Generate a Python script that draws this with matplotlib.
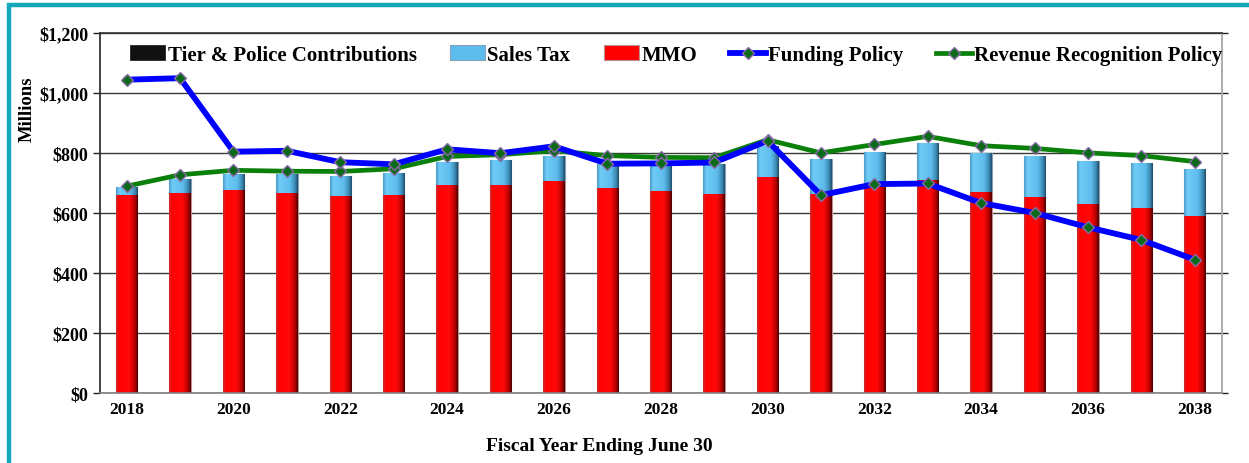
#!/usr/bin/env python3
"""Pension contributions vs. funding / revenue recognition policies, FY2018-2038."""

import matplotlib
matplotlib.use("Agg")
import matplotlib.pyplot as plt
import numpy as np
from matplotlib.colors import LinearSegmentedColormap
from matplotlib.patches import Rectangle

plt.rcParams["font.family"] = ["Liberation Serif", "DejaVu Serif"]
plt.rcParams["font.weight"] = "bold"

years = list(range(2018, 2039))
tier_police = [0] * 21
mmo = [660, 667, 677, 667, 658, 660, 694, 694, 706, 684, 672, 663, 719, 663,
       690, 709, 669, 654, 631, 617, 589]
sales_tax_top = [687, 713, 730, 728, 724, 732, 771, 776, 791, 764, 761, 764, 824, 778,
                 804, 832, 800, 790, 774, 766, 745]
sales_tax = [t - m for t, m in zip(sales_tax_top, mmo)]
funding_policy = [1044, 1049, 804, 807, 769, 762, 812, 799, 822, 764, 765, 768, 840, 659,
                  696, 698, 633, 600, 552, 510, 444]
revenue_policy = [689, 727, 742, 739, 738, 747, 788, 794, 807, 791, 785, 784, 844, 800,
                  828, 855, 824, 815, 800, 791, 771]

y_ticks = [0, 200, 400, 600, 800, 1000, 1200]
x_ticks = list(range(2018, 2039, 2))

RED_SHADE = LinearSegmentedColormap.from_list(
    "red_shade", [(0, "#c83030"), (0.12, "#ff0000"), (0.6, "#ff0808"),
                  (0.85, "#c00000"), (1.0, "#4a0000")])
BLUE_SHADE = LinearSegmentedColormap.from_list(
    "blue_shade", [(0, "#4a9cc8"), (0.15, "#70ccf6"), (0.65, "#5cbcec"),
                   (0.88, "#3a88b0"), (1.0, "#1e4a66")])


def shade_bars(ax, rects, cmap):
    """在每根柱子里叠一层横向渐变，模拟原图的立体感。"""
    grad = np.linspace(0, 1, 64).reshape(1, -1)
    for r in rects:
        if r.get_height() <= 0:
            continue
        x, y, w, h = r.get_x(), r.get_y(), r.get_width(), r.get_height()
        im = ax.imshow(grad, extent=(x, x + w, y, y + h), cmap=cmap, aspect="auto",
                       interpolation="bicubic", zorder=r.get_zorder() + 0.05)
        im.set_clip_path(r)


fig = plt.figure(figsize=(12.49, 4.64), dpi=100)
ax = fig.add_axes([0.080, 0.151, 0.898, 0.776])

bar_w = 0.4
b_tier = ax.bar(years, tier_police, bar_w, color="#111111", edgecolor="#111111",
                linewidth=0.5, zorder=2, label="Tier & Police Contributions")
b_tax = ax.bar(years, sales_tax, bar_w, bottom=mmo, color="#5cbcec", edgecolor="#8aa0b8",
               linewidth=0.8, zorder=2, label="Sales Tax")
b_mmo = ax.bar(years, mmo, bar_w, bottom=tier_police, color="#ff0000", edgecolor="#c09090",
               linewidth=0.8, zorder=2, label="MMO")
shade_bars(ax, b_mmo, RED_SHADE)
shade_bars(ax, b_tax, BLUE_SHADE)

marker_kw = dict(marker="D", markersize=6.5, markerfacecolor="#0a6a1a",
                 markeredgecolor="#8a6aa8", markeredgewidth=1.0)
l_fund, = ax.plot(years, funding_policy, color="#0000ff", linewidth=4.2, zorder=5,
                  label="Funding Policy", **marker_kw)
l_rev, = ax.plot(years, revenue_policy, color="#0a800a", linewidth=3.4, zorder=4,
                 label="Revenue Recognition Policy", **marker_kw)

ax.set_xlim(2017.5, 2038.5)
ax.set_ylim(0, 1200)
ax.set_yticks(y_ticks)
ax.set_yticklabels([f"${v:,}" for v in y_ticks], fontsize=13, fontweight="bold")
ax.set_xticks(x_ticks)
ax.set_xticklabels([str(v) for v in x_ticks], fontsize=12.5, fontweight="bold")
ax.tick_params(axis="x", length=0, pad=6)
ax.tick_params(axis="y", left=True, right=True, length=5, width=1, color="#222222",
               labelright=False)
for t in ax.yaxis.get_ticklines()[1::2]:
    t.set_color("#999999")
    t.set_markersize(4)

ax.set_axisbelow(True)
ax.yaxis.grid(True, color="#3a3a3a", linewidth=1.0)
ax.spines["top"].set_color("#333333")
ax.spines["left"].set_color("#222222")
ax.spines["right"].set_color("#a0a0a0")
ax.spines["bottom"].set_color("#808080")
for s in ax.spines.values():
    s.set_linewidth(1.2)

fig.text(27 / 1249, 1 - 109 / 464, "Millions", rotation=90, ha="center", va="center",
         fontsize=13.5, fontweight="bold")
fig.text(599 / 1249, 1 - 447 / 464, "Fiscal Year Ending June 30", ha="center",
         va="center", fontsize=14, fontweight="bold")

leg = ax.legend(handles=[b_tier, b_tax, b_mmo, l_fund, l_rev], loc="upper right",
                bbox_to_anchor=(1.008, 0.99), ncol=5, frameon=False, fontsize=15,
                handlelength=1.7, handletextpad=0.1, columnspacing=1.6,
                borderaxespad=0.2, borderpad=0.2)
for txt in leg.get_texts():
    txt.set_fontweight("bold")

# teal frame around the chart (open at right / bottom, like the source screenshot)
fig.patches.append(Rectangle((0.0075, -0.05), 1.1, 1.037, transform=fig.transFigure,
                             fill=False, edgecolor="#14a8b8", linewidth=3.2))

fig.savefig("out.png", dpi=100)
